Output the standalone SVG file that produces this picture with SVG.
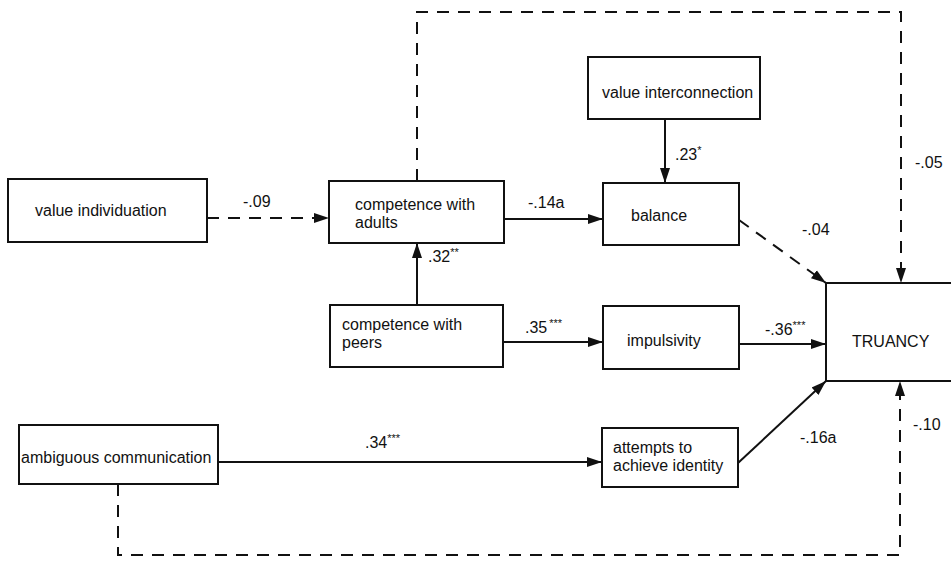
<svg xmlns="http://www.w3.org/2000/svg" width="951" height="561" viewBox="0 0 951 561">
  <style>
    .box { fill: #fff; stroke: #111; stroke-width: 2; }
    .t { font-family: "Liberation Sans", Arial, sans-serif; font-size: 16px; fill: #111; }
    .c { fill: none; stroke: #111; stroke-width: 2; }
    .d { stroke-dasharray: 12 9; }
    .sup { font-size: 11px; }
  </style>
  <defs>
    <marker id="ah" markerUnits="userSpaceOnUse" markerWidth="16" markerHeight="12" refX="15" refY="6" orient="auto">
      <path d="M0,1 L15,6 L0,11 Z" fill="#111"/>
    </marker>
  </defs>
  <rect width="951" height="561" fill="#fff"/>

  <g id="connectors">
    <!-- feedback loop from competence with adults over the top to TRUANCY -->
    <path class="c d" d="M417,181 V12 H901 V283" marker-end="url(#ah)"/>
    <!-- ambiguous communication around the bottom to TRUANCY -->
    <path class="c d" d="M118,484 V555 H900 V381" marker-end="url(#ah)"/>
    <line class="c d" x1="207" y1="218" x2="329" y2="218" marker-end="url(#ah)"/>
    <line class="c" x1="504" y1="219" x2="603" y2="219" marker-end="url(#ah)"/>
    <line class="c" x1="665" y1="119" x2="665" y2="183" marker-end="url(#ah)"/>
    <line class="c" x1="417" y1="305" x2="417" y2="243" marker-end="url(#ah)"/>
    <line class="c" x1="503" y1="342" x2="603" y2="342" marker-end="url(#ah)"/>
    <line class="c d" x1="739" y1="220" x2="826" y2="283" marker-end="url(#ah)"/>
    <line class="c" x1="739" y1="344" x2="826" y2="344" marker-end="url(#ah)"/>
    <line class="c" x1="218" y1="462" x2="602" y2="462" marker-end="url(#ah)"/>
    <line class="c" x1="738" y1="463" x2="826" y2="381" marker-end="url(#ah)"/>
  </g>

  <g id="value-individuation">
    <rect class="box" x="8" y="179" width="199" height="63"/>
    <text class="t" x="35" y="216">value individuation</text>
  </g>
  <g id="competence-adults">
    <rect class="box" x="329" y="181" width="175" height="62"/>
    <text class="t" x="355" y="210">competence with</text>
    <text class="t" x="355" y="228">adults</text>
  </g>
  <g id="value-interconnection">
    <rect class="box" x="588" y="57" width="172" height="62"/>
    <text class="t" x="602" y="98">value interconnection</text>
  </g>
  <g id="balance">
    <rect class="box" x="603" y="183" width="136" height="62"/>
    <text class="t" x="631" y="221">balance</text>
  </g>
  <g id="competence-peers">
    <rect class="box" x="330" y="305" width="173" height="62"/>
    <text class="t" x="342" y="330">competence with</text>
    <text class="t" x="342" y="348">peers</text>
  </g>
  <g id="impulsivity">
    <rect class="box" x="603" y="306" width="136" height="63"/>
    <text class="t" x="627" y="346">impulsivity</text>
  </g>
  <g id="truancy">
    <rect class="box" x="826" y="283" width="134" height="98"/>
    <text class="t" x="852" y="347">TRUANCY</text>
  </g>
  <g id="ambiguous-communication">
    <rect class="box" x="19" y="425" width="199" height="59"/>
    <text class="t" x="21" y="463">ambiguous communication</text>
  </g>
  <g id="attempts-identity">
    <rect class="box" x="602" y="428" width="136" height="59"/>
    <text class="t" x="613" y="453">attempts to</text>
    <text class="t" x="613" y="471">achieve identity</text>
  </g>

  <!-- path coefficients -->
  <g id="coefficients">
    <text class="t" x="243" y="207">-.09</text>
    <text class="t" x="528" y="208">-.14a</text>
    <text class="t" x="675" y="160">.23<tspan class="sup" dy="-6">*</tspan></text>
    <text class="t" x="428" y="262">.32<tspan class="sup" dy="-6">**</tspan></text>
    <text class="t" x="525" y="333">.35<tspan class="sup" dy="-6" dx="2">***</tspan></text>
    <text class="t" x="802" y="235">-.04</text>
    <text class="t" x="765" y="335">-.36<tspan class="sup" dy="-6">***</tspan></text>
    <text class="t" x="915" y="168">-.05</text>
    <text class="t" x="365" y="448">.34<tspan class="sup" dy="-6">***</tspan></text>
    <text class="t" x="800" y="443">-.16a</text>
    <text class="t" x="913" y="430">-.10</text>
  </g>
</svg>
